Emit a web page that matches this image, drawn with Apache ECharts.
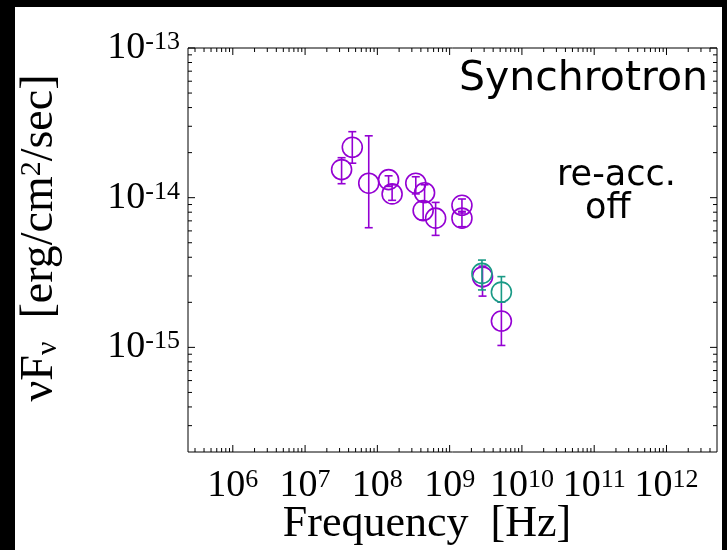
<!DOCTYPE html>
<html>
<head>
<meta charset="utf-8">
<script src="https://cdn.jsdelivr.net/npm/echarts@6/dist/echarts.min.js"></script>
<style>html,body{margin:0;padding:0;background:#000;}#c{width:727px;height:550px;}</style>
</head>
<body>
<div id="c"></div>
<script>
// ---- data (frequency [Hz], nuFnu [erg/cm2/s], lower, upper) ----
const purpleFreq = [3.2e7, 4.5e7, 7.6e7, 1.43e8, 1.6e8, 3.4e8, 4.5e8, 4.3e8, 6.4e8, 1.48e9, 1.48e9, 2.85e9, 5.2e9];
const purpleFlux = [1.54e-14, 2.17e-14, 1.25e-14, 1.32e-14, 1.06e-14, 1.25e-14, 1.08e-14, 8.2e-15, 7.3e-15, 8.9e-15, 7.3e-15, 2.96e-15, 1.50e-15];
const purpleLo   = [1.24e-14, 1.70e-14, 6.3e-15, 1.19e-14, 9.6e-15, 1.06e-14, 9.4e-15, 7.1e-15, 5.6e-15, 7.9e-15, 6.4e-15, 2.20e-15, 1.03e-15];
const purpleHi   = [1.85e-14, 2.76e-14, 2.59e-14, 1.40e-14, 1.22e-14, 1.38e-14, 1.22e-14, 9.4e-15, 9.3e-15, 9.8e-15, 8.1e-15, 3.49e-15, 2.01e-15];

const tealFreq = [2.8e9, 5.2e9];
const tealFlux = [3.12e-15, 2.34e-15];
const tealLo   = [2.42e-15, 2.01e-15];
const tealHi   = [3.83e-15, 2.97e-15];

// axis ranges and tick positions
const xMin = 2.4e5, xMax = 5e12;
const yMin = 2e-16, yMax = 1e-13;
const xDecades = [1e5, 1e6, 1e7, 1e8, 1e9, 1e10, 1e11, 1e12];
const yDecades = [1e-16, 1e-15, 1e-14, 1e-13];
const minorMult = [2, 3, 4, 5, 6, 7, 8, 9];

const SERIF = '"Liberation Serif", "Times New Roman", serif';
const SANS = '"DejaVu Sans", sans-serif';
const PURPLE = '#9400d3';
const TEAL = '#1a9a86';

function ticksFrom(decades, lo, hi) {
  const major = [], minor = [];
  decades.forEach(d => {
    if (d >= lo && d <= hi) major.push(d);
    minorMult.forEach(m => { const v = m * d; if (v > lo && v < hi) minor.push(v); });
  });
  return { major, minor };
}
const xt = ticksFrom(xDecades, xMin, xMax);
const yt = ticksFrom(yDecades, yMin, yMax);

const tickData = [];
xt.major.forEach(v => tickData.push([v, yMin, 0, 1]));
xt.minor.forEach(v => tickData.push([v, yMin, 0, 0]));
yt.major.forEach(v => tickData.push([xMin, v, 1, 1]));
yt.minor.forEach(v => tickData.push([xMin, v, 1, 0]));

function zip(f, y, lo, hi) { return f.map((v, i) => [v, y[i], lo[i], hi[i]]); }

function errRender(color) {
  return function (params, api) {
    const p = api.coord([api.value(0), api.value(1)]);
    const pl = api.coord([api.value(0), api.value(2)]);
    const ph = api.coord([api.value(0), api.value(3)]);
    const st = { stroke: color, lineWidth: 1.6, fill: null };
    const cw = 4;
    return {
      type: 'group',
      children: [
        { type: 'line', shape: { x1: p[0], y1: ph[1], x2: p[0], y2: pl[1] }, style: st },
        { type: 'line', shape: { x1: p[0] - cw, y1: ph[1], x2: p[0] + cw, y2: ph[1] }, style: st },
        { type: 'line', shape: { x1: p[0] - cw, y1: pl[1], x2: p[0] + cw, y2: pl[1] }, style: st },
        { type: 'circle', shape: { cx: p[0], cy: p[1], r: 10 }, style: { stroke: color, lineWidth: 1.6, fill: null } }
      ]
    };
  };
}

function tickRender(params, api) {
  const cs = params.coordSys;
  const isY = api.value(2) === 1;
  const len = api.value(3) === 1 ? 7 : 4;
  const st = { stroke: '#000', lineWidth: 1 };
  if (!isY) {
    const x = api.coord([api.value(0), yMin])[0];
    return { type: 'group', children: [
      { type: 'line', shape: { x1: x, y1: cs.y + cs.height, x2: x, y2: cs.y + cs.height - len }, style: st },
      { type: 'line', shape: { x1: x, y1: cs.y, x2: x, y2: cs.y + len }, style: st }
    ]};
  } else {
    const y = api.coord([xMin, api.value(1)])[1];
    return { type: 'group', children: [
      { type: 'line', shape: { x1: cs.x, y1: y, x2: cs.x + len, y2: y }, style: st },
      { type: 'line', shape: { x1: cs.x + cs.width, y1: y, x2: cs.x + cs.width - len, y2: y }, style: st }
    ]};
  }
}

function expLabel(v) {
  const e = Math.round(Math.log10(v));
  return '{b|10}{s|' + e + '}';
}
const labelRich = {
  b: { fontFamily: SERIF, fontSize: 38, color: '#000', lineHeight: 38 },
  s: { fontFamily: SERIF, fontSize: 26, color: '#000', verticalAlign: 'top', lineHeight: 26, padding: [0, 0, 27, 0] }
};

const chart = echarts.init(document.getElementById('c'), null, { renderer: 'canvas' });
chart.setOption({
  backgroundColor: '#000',
  animation: false,
  graphic: [
    { type: 'rect', z: -10, shape: { x: 15, y: 7, width: 707, height: 543 }, style: { fill: '#fff' } },
    { type: 'text', z: 10, x: 708, y: 79, style: { text: 'Synchrotron', font: '41px ' + SANS, fill: '#000', align: 'right', verticalAlign: 'middle' } },
    { type: 'text', z: 10, x: 557, y: 176, style: { text: 're-acc.', font: '35px ' + SANS, fill: '#000', align: 'left', verticalAlign: 'middle' } },
    { type: 'text', z: 10, x: 585, y: 209, style: { text: 'off', font: '35px ' + SANS, fill: '#000', align: 'left', verticalAlign: 'middle' } },
    { type: 'text', z: 10, x: 427, y: 524, style: {
      text: 'Frequency  [Hz]', font: '44px ' + SERIF, fill: '#000', align: 'center', verticalAlign: 'middle' } },
    { type: 'text', z: 10, x: 40, y: 238, rotation: Math.PI / 2, style: {
      text: '{t|ν}{t|F}{u|ν}{t|  [erg/cm}{p|2}{t|/sec]}', align: 'center', verticalAlign: 'middle',
      rich: {
        t: { fontFamily: SERIF, fontSize: 46, fill: '#000', lineHeight: 46 },
        u: { fontFamily: SERIF, fontSize: 30, fill: '#000', verticalAlign: 'bottom', lineHeight: 30, padding: [18, 0, 0, 0] },
        p: { fontFamily: SERIF, fontSize: 30, fill: '#000', verticalAlign: 'top', lineHeight: 30, padding: [0, 0, 18, 0] }
      } } }
  ],
  grid: { left: 188, right: 10, top: 48, bottom: 98, show: true, backgroundColor: '#fff', borderColor: '#000', borderWidth: 1 },
  xAxis: {
    type: 'log', logBase: 10, min: xMin, max: xMax,
    axisLine: { show: false }, axisTick: { show: false }, splitLine: { show: false },
    axisLabel: { showMinLabel: false, showMaxLabel: false, margin: 15, formatter: expLabel, rich: labelRich }
  },
  yAxis: {
    type: 'log', logBase: 10, min: yMin, max: yMax,
    axisLine: { show: false }, axisTick: { show: false }, splitLine: { show: false },
    axisLabel: { showMinLabel: false, showMaxLabel: true, margin: 8, formatter: expLabel, rich: labelRich }
  },
  series: [
    { type: 'custom', renderItem: tickRender, data: tickData, silent: true, z: 5 },
    { type: 'custom', renderItem: errRender(PURPLE), data: zip(purpleFreq, purpleFlux, purpleLo, purpleHi), z: 3 },
    { type: 'custom', renderItem: errRender(TEAL), data: zip(tealFreq, tealFlux, tealLo, tealHi), z: 4 }
  ]
});
</script>
</body>
</html>
